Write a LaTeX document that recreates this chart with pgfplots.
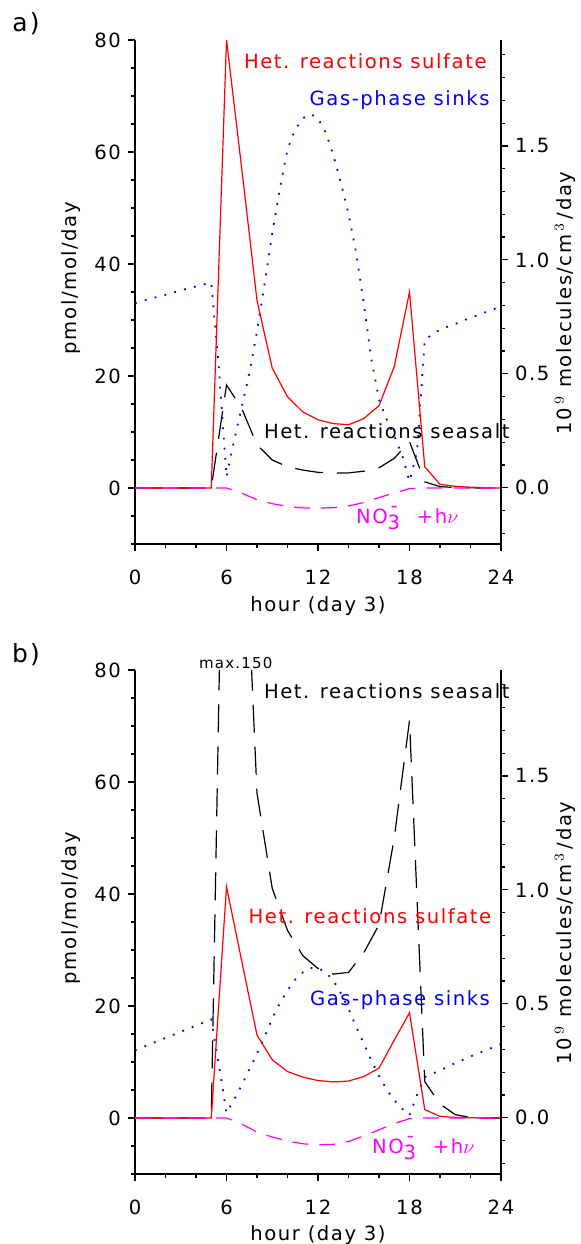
\documentclass[border=0pt]{standalone}
\usepackage{fontspec}
\setmainfont{DejaVu Sans}[LetterSpace=8]
\usepackage{pgfplots}
\pgfplotsset{compat=1.18}
\usepackage{pgfplotstable}

\definecolor{cred}{RGB}{255,0,0}
\definecolor{cblue}{RGB}{0,0,255}
\definecolor{cmag}{RGB}{255,0,255}

% ---------- panel a ----------
\pgfplotstableread{
h v
0 0
1 0
2 0
3 0
4 0
5 0
6 80
7 57
8 33.5
9 21.4
10 16.3
11 13.6
12 12.2
13 11.5
14 11.3
15 12.4
16 14.7
17 21.7
18 35
19 3.8
20 0.65
21 0.3
22 0.15
23 0.05
24 0
}\redA
\pgfplotstableread{
h v
0 0
1 0
2 0
3 0
4 0
5 0
6 18.4
7 14.2
8 7.7
9 5.0
10 3.8
11 3.2
12 2.8
13 2.65
14 2.7
15 3.0
16 3.6
17 5.3
18 8.3
19 1.1
20 0.25
21 0.08
22 0.03
23 0
24 0
}\blkA
\pgfplotstableread{
h v
0 33.0
1 33.8
2 34.5
3 35.3
4 36.0
5 36.7
5.5 21.5
6 2.0
6.5 8.5
7 14.5
7.5 20.5
8 28
8.5 36.5
9 45.5
9.5 53.5
10 60.5
10.5 64
11 66
11.5 66.8
12 66
12.5 63.5
13 59.5
13.5 54.5
14 49
14.5 42
15 33
15.5 23
16 15.8
16.5 12.3
17 9.3
17.5 6
18 1.2
18.5 6.5
19 26.5
20 28.3
21 29.3
22 30.4
23 31.4
24 32.4
}\bluA
\pgfplotstableread{
h v
0 0
1 0
2 0
3 0
4 0
5 0
6 0
7 -0.9
8 -2.1
9 -2.8
10 -3.3
11 -3.55
12 -3.6
13 -3.5
14 -3.2
15 -2.6
16 -1.7
17 -0.9
18 -0.1
19 0
20 0
21 0
22 0
23 0
24 0
}\magA

% ---------- panel b ----------
\pgfplotstableread{
h v
0 0
1 0
2 0
3 0
4 0
5 0
6 41.3
7 28
8 14.8
9 10.4
10 8.3
11 7.3
12 6.7
13 6.45
14 6.6
15 7.4
16 8.9
17 13.9
18 18.8
19 1.5
20 0.3
21 0.1
22 0.05
23 0
24 0
}\redB
\pgfplotstableread{
h v
0 0
1 0
2 0
3 0
4 0
5 0
6 150
7 120
8 58
9 41
10 33.5
11 29
12 26.7
13 25.7
14 26.0
15 29.5
16 34.5
17 50
18 71
19 6.5
20 2.5
21 0.6
22 0.1
23 0
24 0
}\blkB
\pgfplotstableread{
h v
0 12.1
1 13.2
2 14.3
3 15.4
4 16.5
5 17.6
5.5 9.5
6 0.9
6.5 3.3
7 5.9
7.5 8.7
8 11.5
8.5 14.5
9 17.8
9.5 20.5
10 22.8
10.5 24.7
11 26
11.5 26.8
12 26.8
12.5 26.0
13 24.6
13.5 22.3
14 19.5
14.5 16.3
15 13.3
15.5 10.3
16 7.5
16.5 5.1
17 3.2
17.5 1.7
18 0.5
18.5 4.2
19 7.3
20 8.5
21 9.8
22 11.0
23 12.1
24 13.2
}\bluB
\pgfplotstableread{
h v
0 0
1 0
2 0
3 0
4 0
5 0
6 0
7 -1.1
8 -2.5
9 -3.4
10 -4.1
11 -4.6
12 -4.8
13 -4.7
14 -4.2
15 -3.2
16 -2.1
17 -1.0
18 -0.1
19 0
20 0
21 0
22 0
23 0
24 0
}\magB

\newcommand\lbl{\fontsize{9.8}{11}\selectfont}
\newcommand\nothree{NO\rlap{\raisebox{-0.55ex}{3}}\raisebox{1.05ex}{\,-\,}\ \ +h$\nu$}

\pgfplotsset{
  base/.style={scale only axis, width=183pt, height=252pt,
    xmin=0, xmax=24,
    axis line style={-, line width=0.6pt},
    tick align=outside, major tick length=3.5pt, minor tick length=2pt,
    tick style={line width=0.6pt, black},
    every tick label/.append style={font=\lbl},
    /pgf/number format/assume math mode=true},
  lefta/.style={base, ymin=-10, ymax=80,
    axis x line*=bottom, axis y line*=left,
    xtick={0,6,...,24}, minor xtick={0,2,...,24},
    ytick={0,20,...,80}, minor ytick={-10,-5,...,80},
    xticklabel style={yshift=-6pt}},
  righta/.style={base, ymin=-0.2469, ymax=1.9649,
    axis x line=none, axis y line*=right,
    ytick={0,0.5,1,1.5}, minor ytick={-0.2,-0.1,0.1,0.2,0.3,0.4,0.6,0.7,0.8,0.9,1.1,1.2,1.3,1.4,1.6,1.7,1.8,1.9},
    yticklabel style={/pgf/number format/.cd, fixed, fixed zerofill, precision=1}},
  redl/.style={cred, line width=0.6pt},
  blkl/.style={black, line width=0.6pt, dash pattern=on 14pt off 7pt},
  blul/.style={cblue, line width=0.9pt, dash pattern=on 0.9pt off 4.2pt},
  magl/.style={cmag, line width=0.6pt, dash pattern=on 8pt off 5.5pt}
}

\begin{document}
\begin{tikzpicture}[font=\lbl]
\useasboundingbox (0,0) rectangle (290.5pt,-622pt);

% ===== panel a =====
\begin{axis}[lefta, at={(67.5pt,-272pt)}, anchor=south west]
  \addplot[blkl] table[x=h,y=v] {\blkA};
  \addplot[blul] table[x=h,y=v] {\bluA};
  \addplot[redl] table[x=h,y=v] {\redA};
  \addplot[magl] table[x=h,y=v] {\magA};
\end{axis}
\begin{axis}[righta, at={(67.5pt,-272pt)}, anchor=south west]
\end{axis}

\node[font=\fontsize{12.5}{14}\selectfont] at (13pt,-12pt) {a)};
\node[anchor=west, text=cred] at (118.5pt,-30.5pt) {Het. reactions sulfate};
\node[anchor=west, text=cblue] at (151.3pt,-50pt) {Gas-phase sinks};
\node[anchor=west, text=black] at (128.5pt,-215.8pt) {Het. reactions seasalt};
\node[anchor=west, text=cmag] at (174.5pt,-259pt) {\nothree};
\node[rotate=90] at (35.5pt,-139pt) {pmol/mol/day};
\node[rotate=90] at (282.5pt,-151.5pt) {10\,$^9$ molecules/cm\,$^3$\,/day};
\node at (159pt,-303pt) {hour (day 3)};

% ===== panel b =====
\begin{axis}[lefta, at={(67.5pt,-587pt)}, anchor=south west]
  \addplot[blkl] table[x=h,y=v] {\blkB};
  \addplot[blul] table[x=h,y=v] {\bluB};
  \addplot[redl] table[x=h,y=v] {\redB};
  \addplot[magl] table[x=h,y=v] {\magB};
\end{axis}
\begin{axis}[righta, at={(67.5pt,-587pt)}, anchor=south west]
\end{axis}

\node[font=\fontsize{12.5}{14}\selectfont] at (13pt,-327.5pt) {b)};
\node[anchor=west, font=\fontsize{7.5}{9}\selectfont] at (96pt,-331.5pt) {max.150};
\node[anchor=west, text=black] at (128.5pt,-345.8pt) {Het. reactions seasalt};
\node[anchor=west, text=cred] at (120.8pt,-458pt) {Het. reactions sulfate};
\node[anchor=west, text=cblue] at (151.5pt,-499.8pt) {Gas-phase sinks};
\node[anchor=west, text=cmag] at (182.5pt,-574pt) {\nothree};
\node[rotate=90] at (35.5pt,-454pt) {pmol/mol/day};
\node[rotate=90] at (282.5pt,-466.5pt) {10\,$^9$ molecules/cm\,$^3$\,/day};
\node at (159pt,-617.5pt) {hour (day 3)};
\end{tikzpicture}
\end{document}
